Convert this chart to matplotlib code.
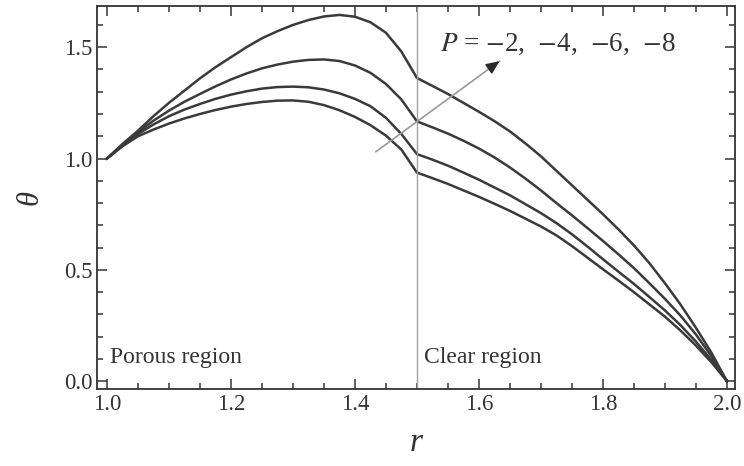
import matplotlib
matplotlib.use("Agg")
import matplotlib.pyplot as plt
from matplotlib.ticker import MultipleLocator

# temperature theta(r): porous region 1 < r < 1.5, clear region 1.5 < r < 2
r = [1.0, 1.025, 1.05, 1.075, 1.10, 1.125, 1.15, 1.175, 1.20, 1.225,
     1.25, 1.275, 1.30, 1.325, 1.35, 1.375, 1.40, 1.425, 1.45, 1.475,
     1.50, 1.525, 1.55, 1.575, 1.60, 1.625, 1.65, 1.675, 1.70, 1.725,
     1.75, 1.775, 1.80, 1.825, 1.85, 1.875, 1.90, 1.925, 1.95, 1.975, 2.0]

theta_p8 = [1.0, 1.065, 1.125, 1.19, 1.25, 1.305, 1.36, 1.41, 1.455, 1.50,
            1.54, 1.572, 1.60, 1.622, 1.638, 1.645, 1.637, 1.612, 1.565, 1.48,
            1.362, 1.326, 1.29, 1.25, 1.21, 1.168, 1.122, 1.068, 1.01, 0.945,
            0.88, 0.815, 0.75, 0.682, 0.61, 0.53, 0.44, 0.345, 0.24, 0.128, 0.0]
theta_p6 = [1.0, 1.062, 1.118, 1.17, 1.215, 1.255, 1.29, 1.324, 1.355, 1.382,
            1.405, 1.422, 1.435, 1.443, 1.445, 1.438, 1.418, 1.385, 1.335, 1.265,
            1.167, 1.14, 1.112, 1.08, 1.045, 1.005, 0.96, 0.91, 0.857, 0.80,
            0.745, 0.688, 0.63, 0.57, 0.508, 0.44, 0.37, 0.295, 0.21, 0.112, 0.0]
theta_p4 = [1.0, 1.058, 1.11, 1.153, 1.19, 1.22, 1.245, 1.268, 1.287, 1.302,
            1.314, 1.321, 1.323, 1.32, 1.31, 1.293, 1.268, 1.235, 1.183, 1.11,
            1.02, 0.995, 0.968, 0.937, 0.905, 0.87, 0.835, 0.795, 0.755, 0.71,
            0.66, 0.605, 0.548, 0.492, 0.437, 0.378, 0.318, 0.252, 0.178, 0.095, 0.0]
theta_p2 = [1.0, 1.055, 1.10, 1.13, 1.157, 1.18, 1.20, 1.218, 1.233, 1.245,
            1.254, 1.26, 1.261, 1.255, 1.24, 1.217, 1.187, 1.15, 1.103, 1.04,
            0.937, 0.912, 0.886, 0.857, 0.828, 0.797, 0.765, 0.73, 0.695, 0.655,
            0.607, 0.555, 0.503, 0.452, 0.40, 0.345, 0.29, 0.228, 0.16, 0.085, 0.0]
profiles = [theta_p2, theta_p4, theta_p6, theta_p8]

r_interface = 1.5
arrow_tail = (1.430, 1.023)
arrow_head = (1.637, 1.445)

plt.rcParams["font.family"] = ["Liberation Serif", "DejaVu Serif"]
plt.rcParams["mathtext.fontset"] = "stix"

fig = plt.figure(figsize=(7.44, 4.66), dpi=100)
ax = fig.add_axes([0.1304, 0.1652, 0.8575, 0.8219])

for th in profiles:
    ax.plot(r, th, color="#3a3a3a", lw=1.8, solid_joinstyle="round")

ax.axvline(r_interface, color="#a0a0a0", lw=1.0)

# arrow pointing toward increasing |P|
ax.annotate("", xy=arrow_head, xytext=arrow_tail,
            arrowprops=dict(arrowstyle="-", color="#9a9a9a", lw=1.2))
ax.annotate("", xy=arrow_head, xytext=(arrow_head[0] - 0.012, arrow_head[1] - 0.024),
            arrowprops=dict(arrowstyle="-|>,head_length=0.8,head_width=0.35",
                            color="#2a2a2a", lw=1.2))
ax.text(1.537, 1.512, r"$P$ = $-$2,  $-$4,  $-$6,  $-$8", fontsize=19.5, color="#333333",
        va="center", ha="left")

ax.text(1.005, 0.08, "Porous region", fontsize=17, color="#333333", va="baseline")
ax.text(1.511, 0.08, "Clear region", fontsize=17, color="#333333", va="baseline")

ax.set_xlim(0.984, 2.013)
ax.set_ylim(-0.035, 1.685)
ax.xaxis.set_major_locator(MultipleLocator(0.2))
ax.xaxis.set_minor_locator(MultipleLocator(0.05))
ax.yaxis.set_major_locator(MultipleLocator(0.5))
ax.yaxis.set_minor_locator(MultipleLocator(0.1))
ax.tick_params(which="both", direction="in", top=True, right=True, color="#333333",
               labelsize=16.5, labelcolor="#333333", width=1.1)
ax.tick_params(which="major", length=7)
ax.tick_params(which="minor", length=4)
for s in ax.spines.values():
    s.set_linewidth(1.3)
    s.set_color("#333333")

ax.set_xlabel("r", fontsize=24, style="italic", color="#333333", labelpad=9)
ax.set_ylabel("θ", fontsize=22, style="italic", color="#333333", labelpad=14)

fig.savefig("out.png", dpi=100)
